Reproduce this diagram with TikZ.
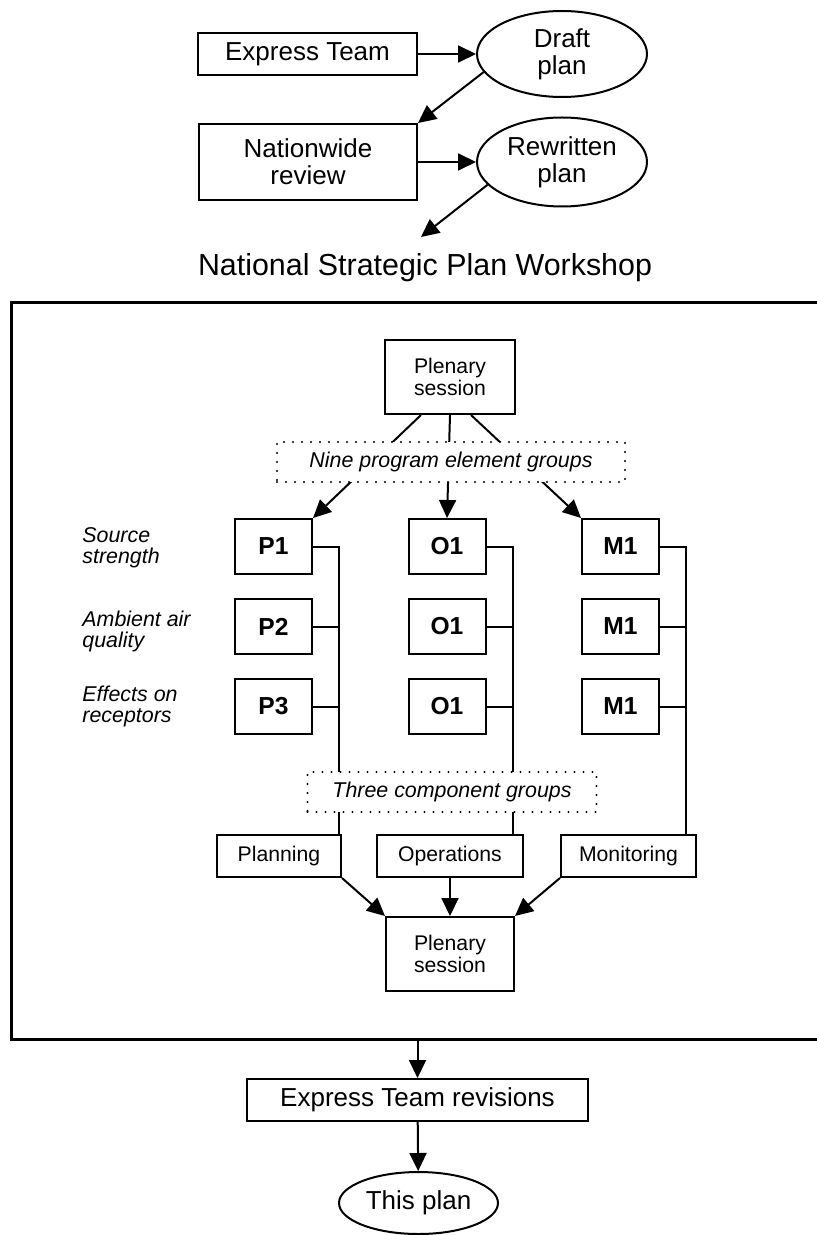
\documentclass[tikz,border=0pt]{standalone}
\usepackage{fontspec}
\setmainfont{Liberation Sans}
\usetikzlibrary{arrows.meta,shapes.geometric}
\begin{document}
\begin{tikzpicture}[
    x=0.5pt, y=-0.5pt,
    box/.style={rectangle, draw, line width=1pt, inner sep=0pt, align=center, font=\fontsize{13}{13.5}\selectfont},
    oval/.style={ellipse, draw, line width=1pt, inner sep=0pt, align=center, font=\fontsize{13}{13.5}\selectfont},
    small/.style={box, font=\fontsize{10.6}{10.8}\selectfont},
    element/.style={box, minimum width=38.5pt, minimum height=27.5pt, font=\fontsize{12.3}{13}\selectfont\bfseries},
    group/.style={rectangle, draw, fill=white, line width=1.1pt, dash pattern=on 0pt off 4.5pt, line cap=round, inner sep=0pt, font=\fontsize{10.7}{11}\selectfont\itshape},
    topic/.style={anchor=west, align=left, inner sep=0pt, font=\fontsize{10.7}{10.5}\selectfont\itshape},
    bus/.style={line width=1pt},
    arrow/.style={-{Triangle[length=9pt, width=8.5pt]}, line width=1pt}
]
\useasboundingbox (0,0) rectangle (817,1235);
\clip (0,0) rectangle (817,1235);

% Drafting stage
\node[box, minimum width=109.5pt, minimum height=21pt] (team) at (307.5,54) {Express Team};
\node[oval, minimum width=85pt, minimum height=43pt] (draft) at (562,54) {Draft\\plan};
\node[box, minimum width=109pt, minimum height=38pt] (review) at (308,162) {Nationwide\\review};
\node[oval, minimum width=85pt, minimum height=44.5pt] (rewritten) at (562,162) {Rewritten\\plan};
\coordinate (toworkshop) at (421,237);

\draw[arrow] (team) -- (draft);
\draw[arrow] (draft.193) -- (review.north east);
\draw[arrow] (review) -- (rewritten);
\draw[arrow] (rewritten.197) -- (toworkshop);

\node[font=\fontsize{15.2}{15.5}\selectfont] (title) at (425,268) {National Strategic Plan Workshop};

% Workshop frame
\draw[line width=1.5pt] (830,303) -- (11,303) -- (11,1039) -- (830,1039);
\coordinate (framebot) at (417.5,1039);

\node[small, minimum width=65pt, minimum height=37pt] (plenary) at (450,377) {Plenary\\session};

% Program elements
\node[element] (p1) at (273.5,546.5) {P1};
\node[element] (p2) at (273.5,626.5) {P2};
\node[element] (p3) at (273.5,706.5) {P3};
\node[element] (o1) at (447,546.5) {O1};
\node[element] (o2) at (447,626.5) {O1};
\node[element] (o3) at (447,706.5) {O1};
\node[element] (m1) at (620.5,546.5) {M1};
\node[element] (m2) at (620.5,626.5) {M1};
\node[element] (m3) at (620.5,706.5) {M1};

\node[topic] (source) at (82,548) {Source\\strength};
\node[topic] (ambient) at (82,631) {Ambient air\\quality};
\node[topic] (effects) at (82,706.5) {Effects on\\receptors};

\draw[arrow] ([xshift=-14.5pt]plenary.south) -- (p1.north east);
\draw[arrow] (plenary.south) -- (o1.north);
\draw[arrow] ([xshift=10.5pt]plenary.south) -- (m1.north west);

\node[group, minimum width=174pt, minimum height=20pt] (nine) at (451,462) {Nine program element groups};

% Component groups
\node[small, minimum width=62pt, minimum height=21pt] (planning) at (279,856) {Planning};
\node[small, minimum width=73pt, minimum height=21pt] (operations) at (450,856) {Operations};
\node[small, minimum width=67.5pt, minimum height=21pt] (monitoring) at (628.5,856) {Monitoring};

\draw[bus] (p1.east) -- ++(26,0) coordinate (pbus) -- (pbus |- planning.north);
\draw[bus] (p2.east) -- (p2.east -| pbus);
\draw[bus] (p3.east) -- (p3.east -| pbus);
\draw[bus] (o1.east) -- ++(26,0) coordinate (obus) -- (obus |- operations.north);
\draw[bus] (o2.east) -- (o2.east -| obus);
\draw[bus] (o3.east) -- (o3.east -| obus);
\draw[bus] (m1.east) -- ++(26,0) coordinate (mbus) -- (mbus |- monitoring.north);
\draw[bus] (m2.east) -- (m2.east -| mbus);
\draw[bus] (m3.east) -- (m3.east -| mbus);

\node[group, minimum width=144.5pt, minimum height=20pt] (three) at (452,792) {Three component groups};

\node[small, minimum width=64pt, minimum height=37pt] (closing) at (450,954) {Plenary\\session};

\draw[arrow] (planning.south east) -- (closing.north west);
\draw[arrow] (operations.south) -- (closing.north);
\draw[arrow] (monitoring.south west) -- (closing.north east);

% Final stage
\node[box, minimum width=170.5pt, minimum height=21pt] (revisions) at (417.5,1100) {Express Team revisions};
\node[oval, minimum width=79.5pt, minimum height=31pt] (thisplan) at (418.5,1203) {This plan};

\draw[arrow] (framebot) -- (revisions.north);
\draw[arrow] (revisions) -- (thisplan);
\end{tikzpicture}
\end{document}
